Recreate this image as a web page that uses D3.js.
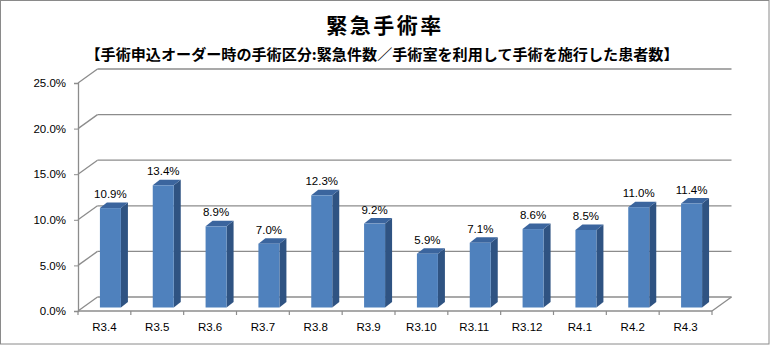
<!DOCTYPE html>
<html>
<head>
<meta charset="utf-8">
<script src="https://cdn.jsdelivr.net/npm/d3@7"></script>
<style>
  html, body { margin: 0; padding: 0; background: #fff; }
  svg { display: block; }
</style>
</head>
<body>
<svg id="chart" width="770" height="345"></svg>
<script>
// Monthly emergency surgery rate (%)
const categories = ["R3.4", "R3.5", "R3.6", "R3.7", "R3.8", "R3.9", "R3.10", "R3.11", "R3.12", "R4.1", "R4.2", "R4.3"];
const rates = [10.9, 13.4, 8.9, 7.0, 12.3, 9.2, 5.9, 7.1, 8.6, 8.5, 11.0, 11.4];
const yTicks = [0, 5, 10, 15, 20, 25];

const titleText = "緊急手術率";
const subtitleText = "【手術申込オーダー時の手術区分:緊急件数／手術室を利用して手術を施行した患者数】";

const svg = d3.select("#chart");
const W = 770, H = 345;

// chart frame
svg.append("rect").attr("x", 0.5).attr("y", 0.5).attr("width", W - 1.5).attr("height", H - 1.5)
  .attr("fill", "#fff").attr("stroke", "#8a8a8a").attr("stroke-width", 1);

// titles
svg.append("text").attr("x", 385).attr("y", 33).attr("text-anchor", "middle")
  .attr("font-family", "'Noto Sans CJK JP', sans-serif").attr("font-weight", "bold")
  .attr("font-size", 21).attr("letter-spacing", 2.5).attr("fill", "#000").text(titleText);
svg.append("text").attr("x", 382).attr("y", 60).attr("text-anchor", "middle")
  .attr("font-family", "'Noto Sans CJK JP', sans-serif").attr("font-weight", "bold")
  .attr("font-size", 14.5).attr("textLength", 593).attr("lengthAdjust", "spacingAndGlyphs")
  .attr("fill", "#000").text(subtitleText);

// plot geometry (front plane) and depth vector of the 3D box
const x0 = 78, x1 = 712;
const depth = { dx: 19.5, dy: -14 };
const x = d3.scaleBand().domain(categories).range([x0, x1]);
const y = d3.scaleLinear().domain([0, 25]).range([311, 83]);

const grid = svg.append("g").attr("fill", "none").attr("stroke", "#8c8c8c").attr("stroke-width", 1.3);
// back-wall gridlines and left-wall diagonals
yTicks.forEach(t => {
  const yy = y(t);
  grid.append("line").attr("x1", x0 + depth.dx).attr("y1", yy + depth.dy)
    .attr("x2", x1 + depth.dx).attr("y2", yy + depth.dy);
  grid.append("line").attr("x1", x0).attr("y1", yy).attr("x2", x0 + depth.dx).attr("y2", yy + depth.dy);
});
// floor: front edge and right diagonal
grid.append("line").attr("x1", x0).attr("y1", y(0)).attr("x2", x1).attr("y2", y(0));
grid.append("line").attr("x1", x1).attr("y1", y(0)).attr("x2", x1 + depth.dx).attr("y2", y(0) + depth.dy);

// value axis
const yAxis = d3.axisLeft(y).tickValues(yTicks).tickSize(4).tickPadding(8)
  .tickFormat(d => d3.format(".1f")(d) + "%");
const gy = svg.append("g").attr("transform", `translate(${x0},0)`).call(yAxis);
gy.select(".domain").attr("stroke", "#8c8c8c").attr("stroke-width", 1.3);
gy.selectAll(".tick line").attr("stroke", "#8c8c8c");
gy.selectAll(".tick text").attr("font-family", "'Liberation Sans', Arial, sans-serif")
  .attr("font-size", 11.5).attr("fill", "#000");

// category axis
const xAxis = d3.axisBottom(x).tickSize(0).tickPadding(12);
const gx = svg.append("g").attr("transform", `translate(0,${y(0)})`).call(xAxis);
gx.select(".domain").remove();
gx.selectAll(".tick text").attr("font-family", "'Liberation Sans', Arial, sans-serif")
  .attr("font-size", 11.5).attr("fill", "#000");
// tick marks between categories
const bounds = categories.map(c => x(c)).concat([x1]);
svg.append("g").selectAll("line").data(bounds).join("line")
  .attr("x1", d => d).attr("x2", d => d).attr("y1", y(0)).attr("y2", y(0) + 4)
  .attr("stroke", "#8c8c8c").attr("stroke-width", 1.2);

// 3D bars
const barW = 21;
const front = { dx: 6, dy: -3.5 };   // bar front plane offset from the box front
const bd = { dx: 7, dy: -5.5 };      // bar depth
const bars = svg.append("g");
categories.forEach((c, i) => {
  const v = rates[i];
  const cx = x(c) + x.bandwidth() / 2 + front.dx;
  const left = cx - barW / 2, right = cx + barW / 2;
  const top = y(v) + front.dy, bottom = y(0) + front.dy;
  // side face
  bars.append("path")
    .attr("d", `M${right},${top}L${right + bd.dx},${top + bd.dy}L${right + bd.dx},${bottom + bd.dy}L${right},${bottom}Z`)
    .attr("fill", "#2f5382");
  // top face
  bars.append("path")
    .attr("d", `M${left},${top}L${left + bd.dx},${top + bd.dy}L${right + bd.dx},${top + bd.dy}L${right},${top}Z`)
    .attr("fill", "#3b659e");
  // front face
  bars.append("rect").attr("x", left).attr("y", top).attr("width", barW).attr("height", bottom - top)
    .attr("fill", "#4f81bd");
  // value label
  bars.append("text").attr("x", cx).attr("y", top - 10).attr("text-anchor", "middle")
    .attr("font-family", "'Liberation Sans', Arial, sans-serif").attr("font-size", 11.5)
    .attr("fill", "#000").text(d3.format(".1f")(v) + "%");
});
</script>
</body>
</html>
